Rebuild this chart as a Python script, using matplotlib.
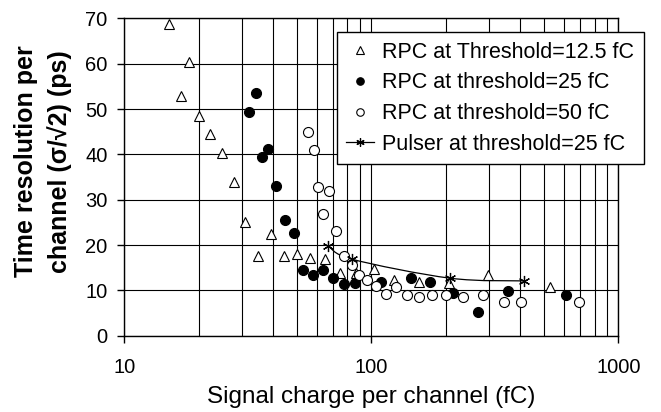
import numpy as np
import matplotlib.pyplot as plt
from matplotlib.path import Path
from matplotlib.patches import PathPatch
from matplotlib.lines import Line2D

plt.rcParams['font.family'] = ['Liberation Sans', 'DejaVu Sans']

# =========================
# Data
# =========================

# RPC at threshold 12.5 fC (open triangles)
thr125_q = [15.2, 18.2, 17.0, 20.0, 22.3, 24.8, 27.7, 30.9, 39.1, 34.7, 44.3,
            50.0, 56.6, 64.9, 74.9, 86.7, 102.2, 123.9, 156, 206.4, 296, 527.6]
thr125_res = [68.7, 60.3, 52.9, 48.5, 44.5, 40.4, 34.0, 25.1, 22.4, 17.5, 17.5,
              18.1, 17.2, 16.9, 13.8, 13.8, 14.7, 12.4, 11.8, 11.6, 13.3, 10.8]

# RPC at threshold 25 fC (filled circles)
thr25_q = [34.1, 32.1, 38.3, 36.1, 41.2, 44.7, 48.6, 52.9, 58.2, 63.7, 70.2,
           77.5, 85.9, 109.1, 144.8, 172.3, 214.2, 271, 358.6, 612.6]
thr25_res = [53.5, 49.3, 41.2, 39.5, 33.0, 25.5, 22.6, 14.5, 13.5, 14.6, 12.7,
             11.4, 11.6, 11.9, 12.7, 11.9, 9.5, 5.2, 9.9, 8.9]

# RPC at threshold 50 fC (open circles)
thr50_q = [55.3, 58.6, 60.8, 67.4, 63.5, 71.9, 77.3, 83.3, 88.9, 96.3, 104.5,
           114.7, 125.6, 139, 155.6, 175.6, 200.6, 235.8, 284, 344.5, 404.6, 693]
thr50_res = [44.9, 41.0, 32.9, 31.9, 26.8, 23.1, 17.7, 15.7, 13.5, 12.3, 11.0,
             9.2, 10.7, 9.0, 8.6, 9.1, 8.9, 8.5, 9.1, 7.5, 7.4, 7.5]

# Pulser at threshold 25 fC (asterisks, smoothed line)
pulser_q = [66.8, 83.3, 208.3, 416.4]
pulser_res = [19.9, 16.9, 12.7, 12.1]

labels = ["RPC at Threshold=12.5 fC", "RPC at threshold=25 fC",
          "RPC at threshold=50 fC", "Pulser at threshold=25 fC"]


def smooth_path(xs, ys):
    # spreadsheet-style smoothed connector (Bezier through the points, log x)
    lx = np.log10(xs)
    y = np.asarray(ys, dtype=float)
    n = len(xs)
    verts = [(xs[0], ys[0])]
    codes = [Path.MOVETO]
    for i in range(n - 1):
        a = max(i - 1, 0)
        b = min(i + 2, n - 1)
        c1 = (10 ** (lx[i] + (lx[i + 1] - lx[a]) / 6), y[i] + (y[i + 1] - y[a]) / 6)
        c2 = (10 ** (lx[i + 1] - (lx[b] - lx[i]) / 6), y[i + 1] - (y[b] - y[i]) / 6)
        verts += [c1, c2, (xs[i + 1], ys[i + 1])]
        codes += [Path.CURVE4] * 3
    return Path(verts, codes)


# =========================
# Plot
# =========================

fig = plt.figure(figsize=(6.61, 4.12), dpi=100)
ax = fig.add_axes([0.188, 0.185, 0.7477, 0.7704])

ms = 7.2
star = (6, 2, 0)

ax.plot(thr125_q, thr125_res, ls='none', marker='^', ms=ms, mfc='white',
        mec='black', mew=0.8, zorder=3)
ax.plot(thr25_q, thr25_res, ls='none', marker='o', ms=ms, mfc='black',
        mec='black', mew=0.8, zorder=3)
ax.plot(thr50_q, thr50_res, ls='none', marker='o', ms=ms, mfc='white',
        mec='black', mew=0.8, zorder=3)
ax.add_patch(PathPatch(smooth_path(pulser_q, pulser_res), fc='none',
                       ec='black', lw=0.9, zorder=2.5))
ax.plot(pulser_q, pulser_res, ls='none', marker=star, ms=8, mec='black',
        mew=0.9, zorder=3)

ax.set_xscale('log')
ax.set_xlim(10, 1000)
ax.set_ylim(0, 70)
ax.set_yticks(np.arange(0, 71, 10))
ax.set_xticks([10, 100, 1000])
ax.set_xticklabels(['10', '100', '1000'])
ax.xaxis.set_minor_formatter(plt.NullFormatter())

ax.set_axisbelow(True)
ax.grid(True, which='both', axis='x', color='black', lw=0.8)
ax.grid(True, which='major', axis='y', color='black', lw=0.8)
for s in ax.spines.values():
    s.set_color('black')
    s.set_linewidth(1.0)

ax.tick_params(axis='x', which='major', direction='out', length=5, width=1,
               pad=11, labelsize=14.5)
ax.tick_params(axis='x', which='minor', length=0)
ax.tick_params(axis='y', which='major', direction='out', length=5, width=1,
               pad=7, labelsize=14.5)

ax.set_xlabel("Signal charge per channel (fC)", fontsize=17.5)
ax.xaxis.set_label_coords(0.5, -0.158)
ax.set_ylabel("Time resolution per\nchannel (\u03c3/\u221a2) (ps)", fontsize=18,
              fontweight='bold', linespacing=1.45)
ax.yaxis.set_label_coords(-0.106, 0.55)

# =========================
# Legend
# =========================

handles = [
    Line2D([], [], ls='none', marker='^', ms=ms, mfc='white', mec='black', mew=0.8),
    Line2D([], [], ls='none', marker='o', ms=ms, mfc='black', mec='black', mew=0.8),
    Line2D([], [], ls='none', marker='o', ms=ms, mfc='white', mec='black', mew=0.8),
    Line2D([], [], color='black', lw=0.9, marker=star, ms=8, mec='black', mew=0.9),
]
leg = ax.legend(handles, labels, loc='upper left', bbox_to_anchor=(0.4298, 0.957),
                borderaxespad=0, fontsize=15.5, frameon=True, fancybox=False,
                framealpha=1, edgecolor='black', markerscale=0.75,
                handlelength=1.3, handletextpad=0.35, labelspacing=0.45,
                borderpad=0.45)
leg.get_frame().set_linewidth(1.0)

plt.savefig("out.png", dpi=100)
